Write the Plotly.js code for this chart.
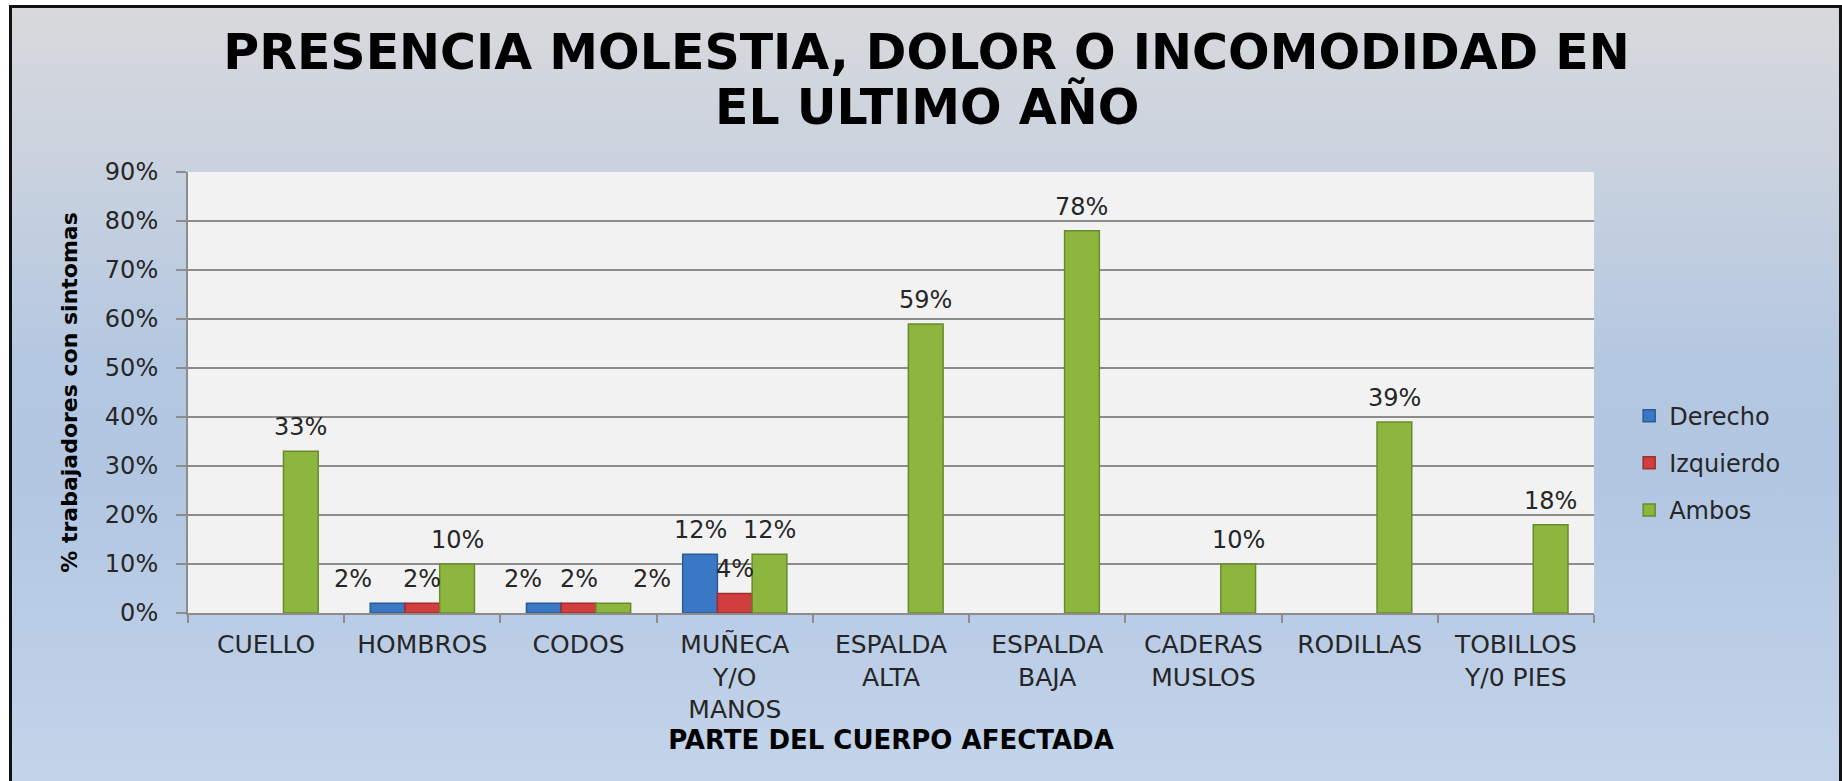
<!DOCTYPE html>
<html>
<head>
<meta charset="utf-8">
<script src="https://cdn.plot.ly/plotly-3.0.1.min.js"></script>
<style>
  html, body { margin: 0; padding: 0; background: #ffffff; }
  #wrap { position: relative; width: 1842px; height: 781px; overflow: hidden; }
  #frame {
    position: absolute; left: 9px; top: 5px; width: 1833px; height: 776px;
    box-sizing: border-box;
    border-left: 3px solid #111; border-top: 3px solid #111; border-right: 3px solid #111;
    background: linear-gradient(to bottom, #d8d9dc 0%, #cbd3de 18%, #b5c8e1 45%, #b2c6e2 60%, #c3d4ea 100%);
  }
  #chart { position: absolute; left: 0; top: 0; width: 1842px; height: 781px; }
</style>
</head>
<body>
<div id="wrap">
  <div id="frame"></div>
  <div id="chart"></div>
</div>
<script>
const categories = ["CUELLO", "HOMBROS", "CODOS", "MUÑECA<br>Y/O<br>MANOS", "ESPALDA<br>ALTA", "ESPALDA<br>BAJA", "CADERAS<br>MUSLOS", "RODILLAS", "TOBILLOS<br>Y/0 PIES"];
const derecho   = [null, 0.02, 0.02, 0.12, null, null, null, null, null];
const izquierdo = [null, 0.02, 0.02, 0.04, null, null, null, null, null];
const ambos     = [0.33, 0.10, 0.02, 0.12, 0.59, 0.78, 0.10, 0.39, 0.18];
const seriesNames = ["Derecho", "Izquierdo", "Ambos"];
const yTickVals = [0, 0.1, 0.2, 0.3, 0.4, 0.5, 0.6, 0.7, 0.8, 0.9];
const titleLines = ["PRESENCIA MOLESTIA, DOLOR O INCOMODIDAD EN", "EL ULTIMO AÑO"];

// style settings
const FONT = "DejaVu Sans, Liberation Sans, sans-serif";
const colors = ["#3a77c5", "#d13e3e", "#8cb63e"];
const lines = ["#2b5a98", "#a02c2c", "#6a8a2c"];
const margin = { l: 188, r: 248, t: 172, b: 168 };
const W = 1842, H = 781, BARGAP = 0.333;
// small horizontal nudges of crowded data labels ("category,series": px)
const labelNudge = { "1,0": -35, "2,0": -21, "2,2": 39 };

const allSeries = [derecho, izquierdo, ambos];
const data = allSeries.map((vals, i) => ({
  type: "bar",
  name: seriesNames[i],
  x: categories,
  y: vals,
  legendgroup: "g" + i,
  marker: { color: colors[i], line: { color: lines[i], width: 1.5 } },
  hoverinfo: "skip"
}));

const plotW = W - margin.l - margin.r;
const plotH = H - margin.t - margin.b;
const barW = plotW / categories.length * (1 - BARGAP) / allSeries.length;
const annotations = [];
allSeries.forEach((vals, i) => {
  vals.forEach((v, j) => {
    if (v === null) return;
    annotations.push({
      x: categories[j], y: v, xref: "x", yref: "y",
      text: Math.round(v * 100) + "%",
      showarrow: false,
      xanchor: "center", yanchor: "bottom",
      xshift: (i - 1) * barW + (labelNudge[j + "," + i] || 0),
      yshift: 8,
      font: { family: FONT, size: 24, color: "#262626" }
    });
  });
});
// second title line (tighter line spacing than Plotly's multi-line title)
annotations.push({
  xref: "paper", yref: "paper",
  x: (0.503 * W - margin.l) / plotW, y: (H - margin.b - 106) / plotH,
  xanchor: "center", yanchor: "middle",
  text: "<b>" + titleLines[1] + "</b>",
  showarrow: false,
  font: { family: FONT, size: 49, color: "#000" }
});

const layout = {
  width: W, height: H,
  paper_bgcolor: "rgba(0,0,0,0)",
  plot_bgcolor: "#f2f2f2",
  margin: margin,
  barmode: "group",
  bargap: BARGAP,
  bargroupgap: 0,
  showlegend: true,
  annotations: annotations,
  title: {
    text: "<b>" + titleLines[0] + "</b>",
    font: { family: FONT, size: 49, color: "#000" },
    x: 0.503, xanchor: "center",
    y: 1 - 52 / H, yanchor: "middle", yref: "container"
  },
  xaxis: {
    type: "category",
    showline: true, linecolor: "#8c8c8c", linewidth: 2,
    ticks: "outside", tickson: "boundaries", ticklen: 8, tickcolor: "#8c8c8c", tickwidth: 2,
    ticklabelstandoff: 8,
    tickfont: { family: FONT, size: 25, color: "#262626" },
    showgrid: false,
    title: { text: "<b>PARTE DEL CUERPO AFECTADA</b>", font: { family: FONT, size: 26, color: "#000" }, standoff: 8 },
    fixedrange: true
  },
  yaxis: {
    range: [0, 0.9],
    tickvals: yTickVals,
    tickformat: ".0%",
    showline: true, linecolor: "#8c8c8c", linewidth: 2,
    ticks: "outside", ticklen: 10, tickcolor: "#8c8c8c", tickwidth: 2,
    ticklabelstandoff: 13,
    tickfont: { family: FONT, size: 24, color: "#262626" },
    showgrid: true, gridcolor: "#8c8c8c", gridwidth: 2,
    zeroline: false,
    title: { text: "<b>% trabajadores con sintomas</b>", font: { family: FONT, size: 22, color: "#000" }, standoff: 21 },
    fixedrange: true
  },
  legend: {
    x: 1.025, xanchor: "left",
    y: 0.34, yanchor: "middle",
    bgcolor: "rgba(0,0,0,0)",
    font: { family: FONT, size: 24, color: "#262626" },
    traceorder: "grouped",
    tracegroupgap: 13
  }
};

Plotly.newPlot("chart", data, layout, { displayModeBar: false, staticPlot: true });
</script>
</body>
</html>
